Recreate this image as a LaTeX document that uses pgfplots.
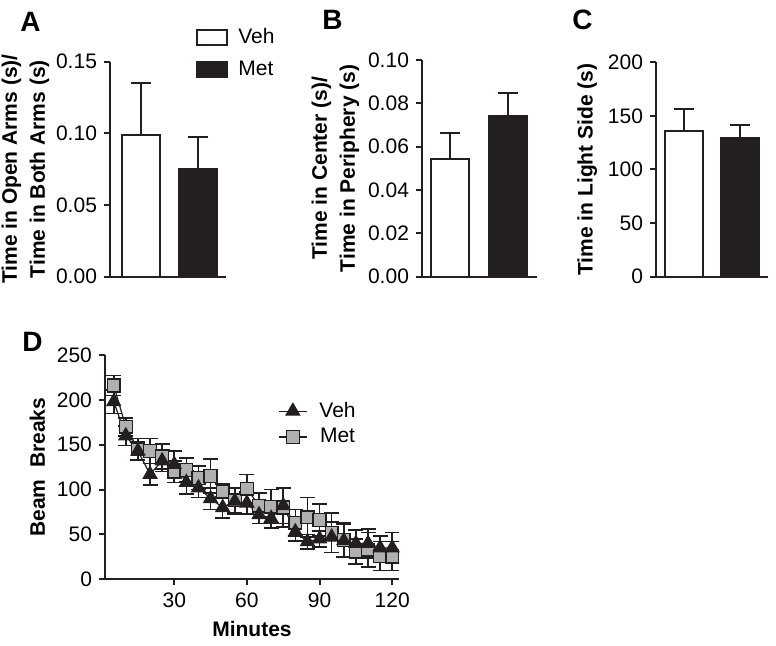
\documentclass[border=0pt]{standalone}
\usepackage{fontspec}
\setmainfont{Liberation Sans}
\usepackage{pgfplots}
\pgfplotsset{compat=1.18}
\usepackage{pgfplotstable}
\definecolor{barblack}{HTML}{231F20}
\definecolor{metgray}{HTML}{B0B0B0}

% beam breaks per 5 min bin, mean and SEM
\pgfplotstableread{
x   veh vehe met mete
5   198 13  216 11
10  160 11  170 10
15  143 10  145 12
20  117 12  143 14
25  132 12  137 14
30  128 15  120 12
35  108 13  122 13
40  102 11  113 13
45  90  12  115 19
50  80  12  98  8
55  87  14  88  14
60  85  12  101 16
65  72  10  82  14
70  68  11  81  19
75  82  20  80  22
80  53  10  63  15
85  42  8   69  22
90  45  9   66  18
95  47  17  52  22
100 43  18  44  19
105 40  15  31  14
110 40  16  33  19
115 35  13  26  16
120 35  17  26  16
}\beamdata

\pgfplotsset{
  panel/.style={
    scale only axis, anchor=south west,
    axis x line*=bottom, axis y line*=left,
    axis line style={line width=1pt, barblack},
    every tick/.style={line width=1pt, barblack},
    major tick length=3pt, tick align=outside,
    enlargelimits=false,
    /pgf/number format/assume math mode=true,
    tick label style={font=\fontsize{10.5}{12}\selectfont},
    label style={font=\bfseries\fontsize{10.5}{14}\selectfont},
  },
  barpanel/.style={
    panel, ybar, bar width=19pt, bar shift=0pt, xtick=\empty, ymin=0,
    every axis plot/.append style={draw=barblack, line width=1pt},
    error bars/error bar style={line width=1pt, barblack},
    error bars/error mark options={rotate=90, mark size=5pt, line width=1pt, barblack},
  },
}

\begin{document}
\begin{tikzpicture}
\path[use as bounding box] (0,0) rectangle (388pt,-323pt);

% A
\begin{axis}[barpanel, at={(55pt,-138.35pt)}, width=58pt, height=107.5pt,
  xmin=0.45, xmax=2.5, ymax=0.15, ytick={0,0.05,0.1,0.15},
  yticklabel style={/pgf/number format/.cd, fixed, fixed zerofill, precision=2},
  ylabel={Time in Open Arms (s)/\\Time in Both Arms (s)}, ylabel style={align=center, yshift=-3.5pt},
  legend style={at={(0.741,1.175)}, anchor=north west, draw=none, fill=none,
    font=\fontsize{10.5}{12}\selectfont, row sep=3pt, inner sep=0pt},
  legend cell align=left,
  legend image code/.code={\draw[#1] (0pt,-3.75pt) rectangle (15pt,3.75pt); \path (18pt,0pt);}]
\addplot[fill=white, error bars/.cd, y dir=plus, y explicit] coordinates {(1,0.099) +- (0,0.036)};
\addplot[fill=barblack, error bars/.cd, y dir=plus, y explicit] coordinates {(2,0.075) +- (0,0.0227)};
\legend{Veh, Met}
\end{axis}

% B
\begin{axis}[barpanel, at={(211pt,-138.35pt)}, width=57.5pt, height=108.35pt,
  xmin=0.51, xmax=2.51, ymax=0.1, ytick={0,0.02,...,0.1},
  yticklabel style={/pgf/number format/.cd, fixed, fixed zerofill, precision=2},
  ylabel={Time in Center (s)/\\Time in Periphery (s)}, ylabel style={align=center, yshift=-2.5pt}]
\addplot[fill=white, error bars/.cd, y dir=plus, y explicit] coordinates {(1,0.0542) +- (0,0.0123)};
\addplot[fill=barblack, error bars/.cd, y dir=plus, y explicit] coordinates {(2,0.0743) +- (0,0.0103)};
\end{axis}

% C
\begin{axis}[barpanel, at={(328pt,-138.35pt)}, width=56pt, height=107.2pt,
  xmin=0.5, xmax=2.49, ymax=200, ytick={0,50,...,200},
  ylabel={Time in Light Side (s)}, ylabel style={yshift=-1.5pt}]
\addplot[fill=white, error bars/.cd, y dir=plus, y explicit] coordinates {(1,136.2) +- (0,20.3)};
\addplot[fill=barblack, error bars/.cd, y dir=plus, y explicit] coordinates {(2,129) +- (0,12.8)};
\end{axis}

% D
\begin{axis}[panel, at={(52.5pt,-289.65pt)}, width=147pt, height=112.15pt,
  xmin=1.4, xmax=122.8, ymin=0, ymax=250, xtick={30,60,90,120}, ytick={0,50,...,250},
  xlabel={Minutes}, ylabel={Beam\ \ Breaks}, ylabel style={yshift=-1pt},
  legend style={at={(0.588,0.81)}, anchor=north west, draw=none, fill=none,
    font=\fontsize{10.5}{12}\selectfont, row sep=0pt, inner sep=0pt},
  reverse legend,
  legend image code/.code={\draw[mark repeat=2, mark phase=2, #1] plot coordinates {(0pt,0pt) (7pt,0pt) (14pt,0pt)}; \path (18pt,0pt);},
  error bars/error bar style={line width=0.8pt, barblack},
  error bars/error mark options={rotate=90, mark size=3.75pt, line width=0.8pt, barblack}]
\addplot[barblack, line width=0.6pt, mark=square*, mark size=3.2pt,
  mark options={fill=metgray, draw=barblack, line width=0.7pt},
  error bars/.cd, y dir=both, y explicit] table[x=x, y=met, y error=mete] {\beamdata};
\addplot[barblack, line width=0.6pt, mark=triangle*, mark size=3.9pt,
  mark options={fill=barblack, draw=barblack},
  error bars/.cd, y dir=both, y explicit] table[x=x, y=veh, y error=vehe] {\beamdata};
\legend{Met, Veh}
\end{axis}

\begin{scope}[font=\bfseries\fontsize{14}{16}\selectfont]
\node[anchor=north west, inner sep=0pt] at (10pt,-6pt) {A};
\node[anchor=north west, inner sep=0pt] at (161pt,-5pt) {B};
\node[anchor=north west, inner sep=0pt] at (286pt,-5pt) {C};
\node[anchor=north west, inner sep=0pt] at (11pt,-166pt) {D};
\end{scope}
\end{tikzpicture}
\end{document}
